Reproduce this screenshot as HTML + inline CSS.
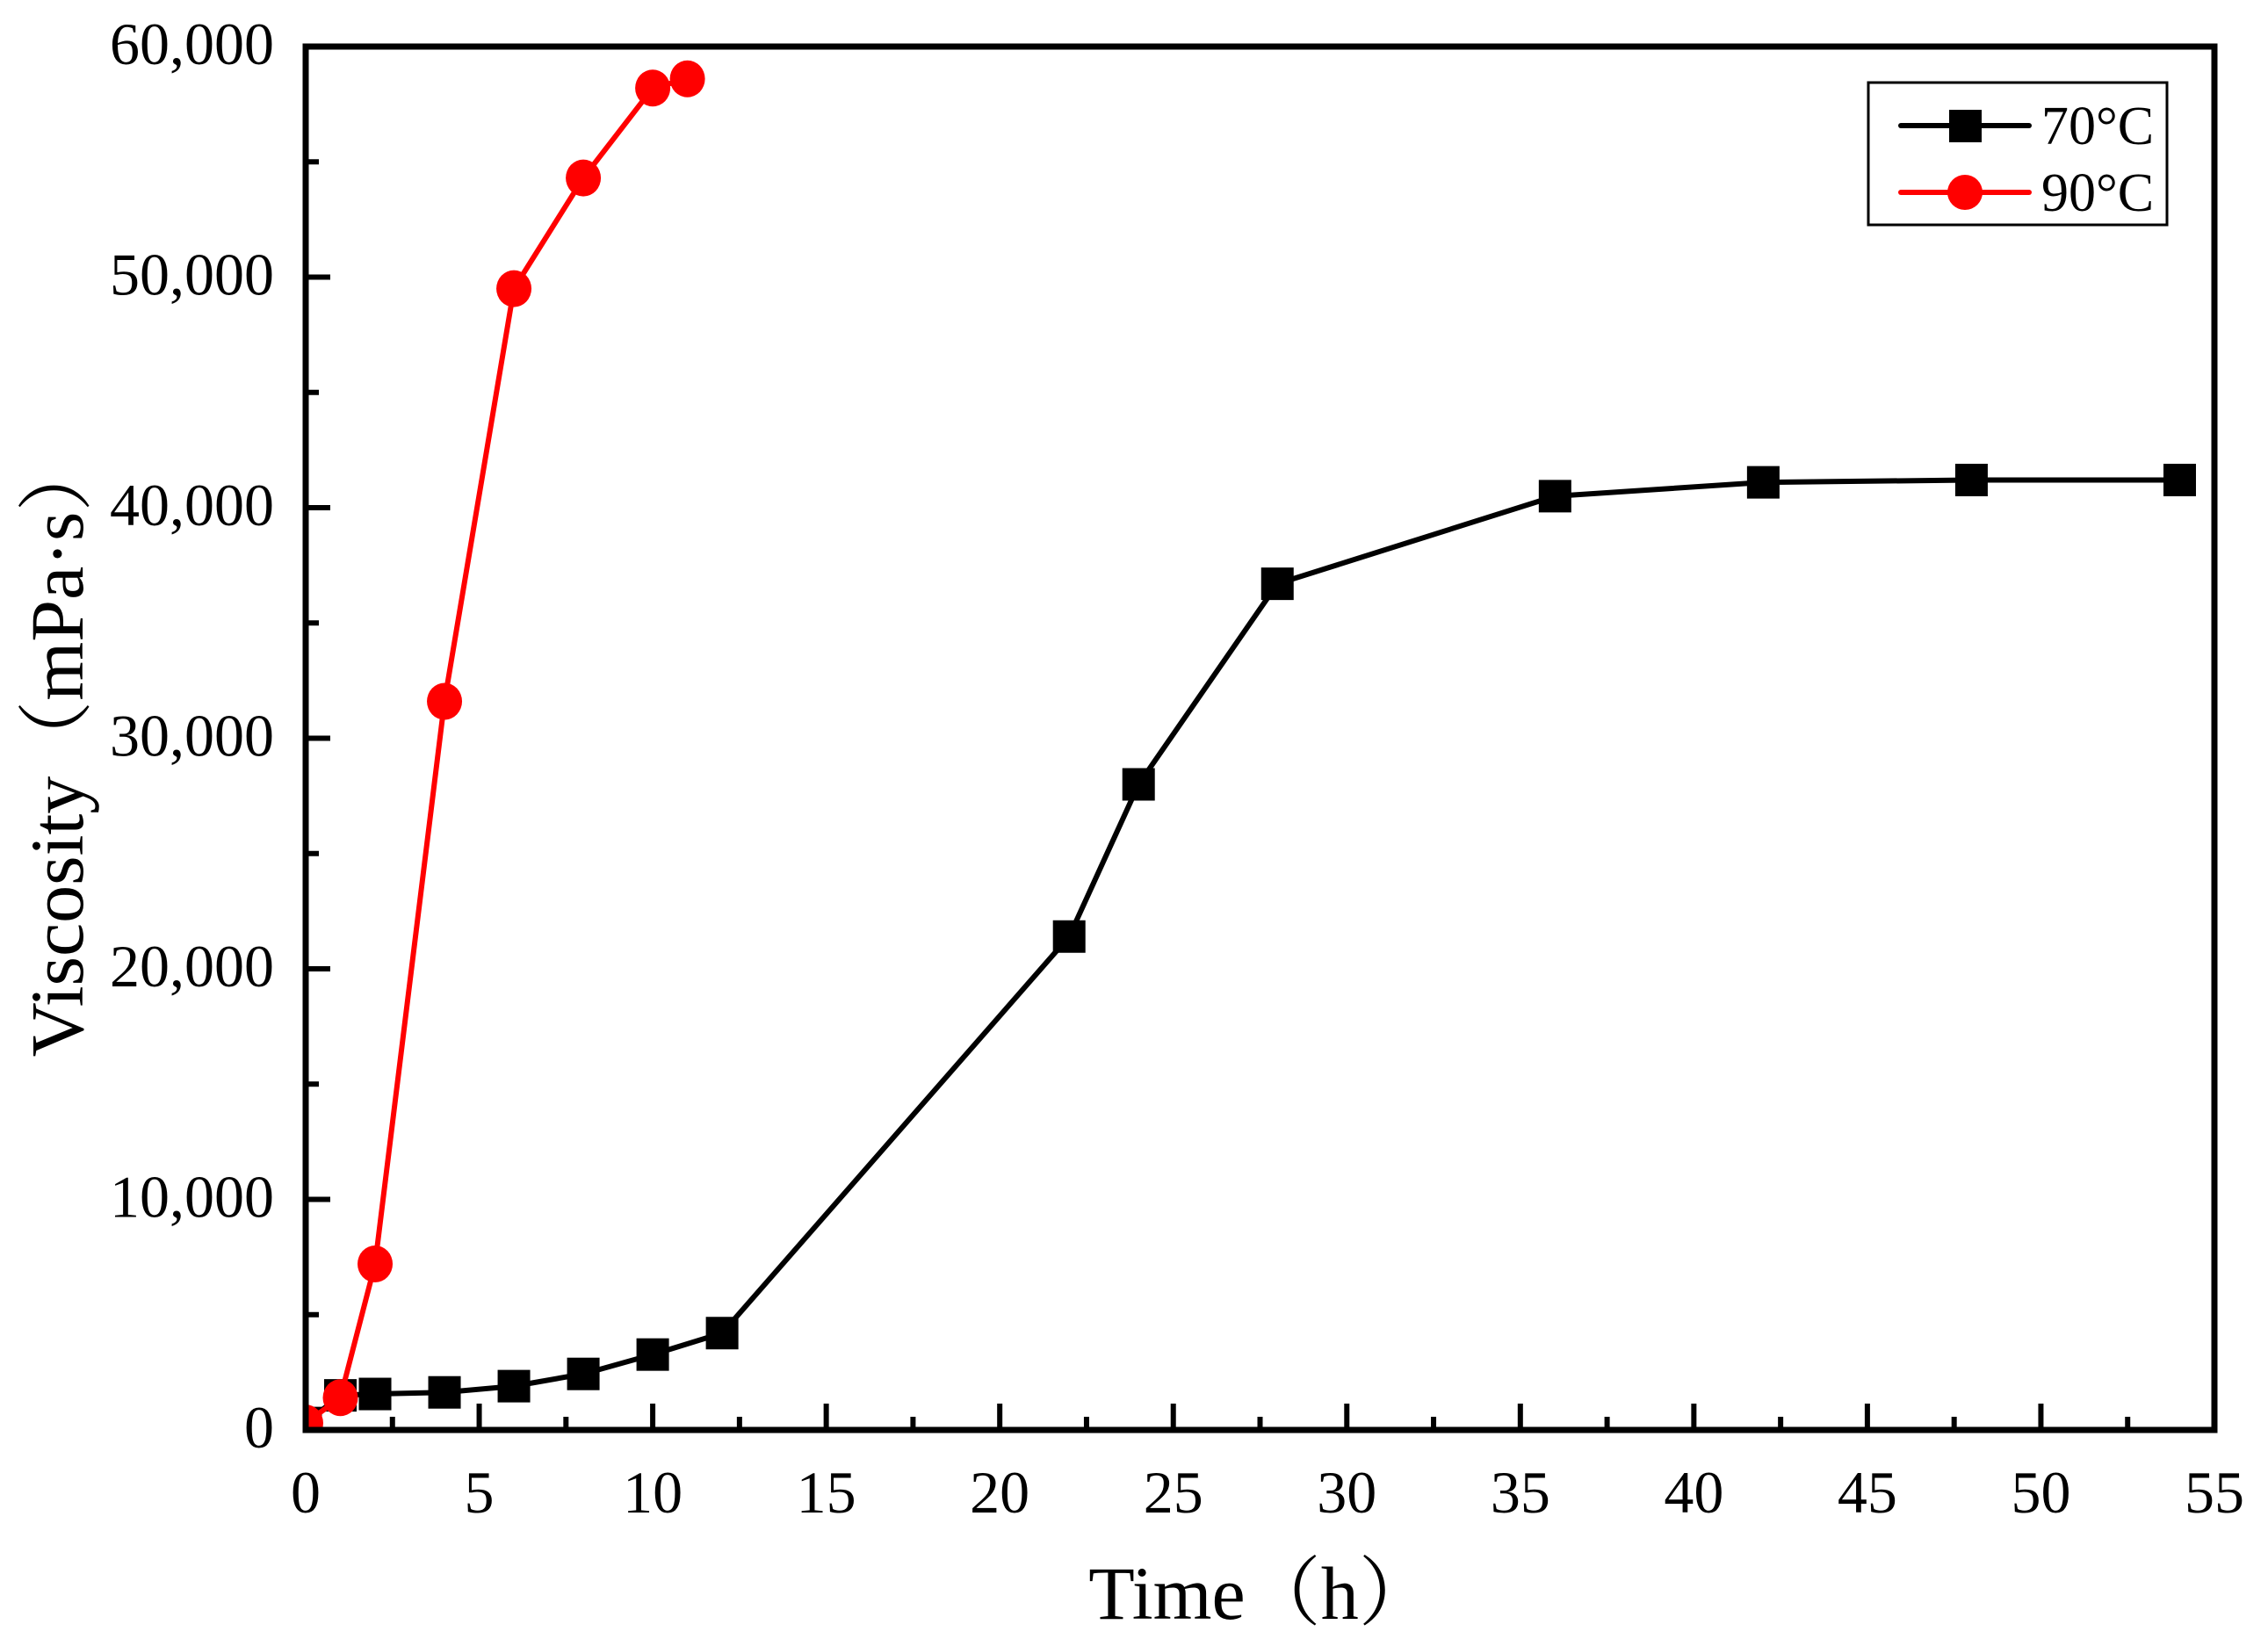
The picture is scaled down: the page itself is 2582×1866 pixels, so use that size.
<!DOCTYPE html>
<html><head><meta charset="utf-8"><style>
html,body{margin:0;padding:0;background:#fff;}
svg{display:block;}
text{font-family:"Liberation Serif","Noto Serif CJK SC",serif;fill:#000;}
</style></head><body>
<svg id="chart" width="2582" height="1866" viewBox="0 0 2582 1866" xmlns="http://www.w3.org/2000/svg">
<defs><clipPath id="plotclip"><rect x="348" y="53" width="2173" height="1575"/></clipPath></defs>
<g id="grid"></g>
<g id="series" clip-path="url(#plotclip)"></g>
<g id="axes"></g>
<text x="94" y="850" font-size="86" text-anchor="middle" transform="rotate(-90 94 850)">Viscosity（mPa·s）</text>
<text x="1436" y="1843" font-size="86" text-anchor="middle">Time（h）</text>
<g>
<rect x="2127" y="94" width="340" height="162" fill="#fff" stroke="#000" stroke-width="3"/>
<line x1="2164" y1="143" x2="2310" y2="143" stroke="#000" stroke-width="6" stroke-linecap="round"/>
<rect x="2219" y="125" width="37" height="37" fill="#000"/>
<text x="2324" y="164" font-size="62">70°C</text>
<line x1="2164" y1="219" x2="2310" y2="219" stroke="#f00" stroke-width="6" stroke-linecap="round"/>
<circle cx="2237" cy="219" r="20" fill="#f00"/>
<text x="2324" y="240" font-size="62">90°C</text>
</g>
</svg>
<script>
const xTicks = [0,5,10,15,20,25,30,35,40,45,50,55];
const yTicks = [0,10000,20000,30000,40000,50000,60000];
const yTickLabels = ["0","10,000","20,000","30,000","40,000","50,000","60,000"];
const t70 = [0,1,2,4,6,8,10,12,22,24,28,36,42,48,54];
const v70 = [300,1500,1560,1630,1900,2430,3270,4200,21400,28000,36700,40500,41100,41200,41200];
const t90 = [0,1,2,4,6,8,10,11];
const v90 = [300,1400,7200,31600,49500,54300,58200,58600];

const NS="http://www.w3.org/2000/svg";
const X0=348,X1=2521,Y0=1628,Y1=53;
function sx(t){return X0+(t-0)/(55-0)*(X1-X0);}
function sy(v){return Y0-(v-0)/(60000-0)*(Y0-Y1);}
function mk(tag,attrs,parent){const e=document.createElementNS(NS,tag);for(const k in attrs)e.setAttribute(k,attrs[k]);parent.appendChild(e);return e;}
const axes=document.getElementById('axes');
const series=document.getElementById('series');

for(let i=0;i<xTicks.length;i++){
  const x=sx(xTicks[i]);
  const tk=mk('line',{x1:x,y1:Y0,x2:x,y2:Y0-30,stroke:'#000','stroke-width':6},axes);
  
  
  const lb=mk('text',{x:x,y:1722,'font-size':68,'text-anchor':'middle'},axes);
  lb.textContent=xTicks[i];
  
  
  if(i<xTicks.length-1){
    const xm=sx(xTicks[i]+2.5);
    const mt=mk('line',{x1:xm,y1:Y0,x2:xm,y2:Y0-15,stroke:'#000','stroke-width':6},axes);
    
    
  }
}
for(let i=0;i<yTicks.length;i++){
  const y=sy(yTicks[i]);
  const tk=mk('line',{x1:X0,y1:y,x2:X0+28,y2:y,stroke:'#000','stroke-width':6},axes);
  
  
  const lb=mk('text',{x:312,y:y+20,'font-size':68,'text-anchor':'end'},axes);
  lb.textContent=yTickLabels[i];
  
  
  if(i<yTicks.length-1){
    const ym=sy(yTicks[i]+5000);
    const mt=mk('line',{x1:X0,y1:ym,x2:X0+15,y2:ym,stroke:'#000','stroke-width':6},axes);
    
    
  }
}
const frame=mk('rect',{x:X0,y:Y1,width:X1-X0,height:Y0-Y1,fill:'none',stroke:'#000','stroke-width':7},axes);



const p70=t70.map((t,i)=>sx(t)+','+sy(v70[i])).join(' ');
const l70=mk('polyline',{points:p70,fill:'none',stroke:'#000','stroke-width':6,'stroke-linejoin':'round'},series);


for(let i=0;i<t70.length;i++){
  const r=mk('rect',{x:sx(t70[i])-18.5,y:sy(v70[i])-18.5,width:37,height:37,fill:'#000'},series);
  
  
}
const p90=t90.map((t,i)=>sx(t)+','+sy(v90[i])).join(' ');
const l90=mk('polyline',{points:p90,fill:'none',stroke:'#f00','stroke-width':6,'stroke-linejoin':'round'},series);


for(let i=0;i<t90.length;i++){
  const c=mk('ellipse',{cx:sx(t90[i]),cy:sy(v90[i]),rx:20,ry:21,fill:'#f00'},series);
  
  
}
</script>
</body></html>
